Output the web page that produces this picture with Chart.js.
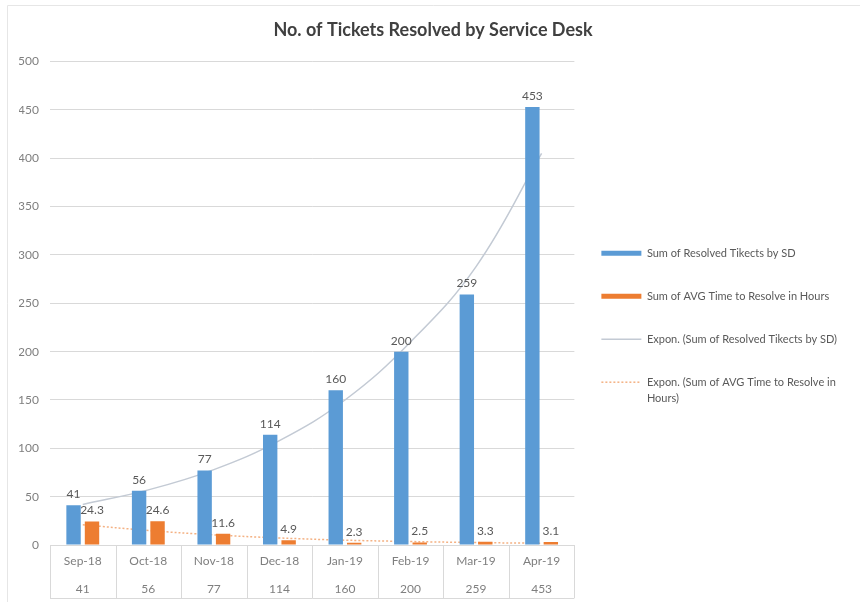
<!DOCTYPE html>
<html>
<head>
<meta charset="utf-8">
<title>No. of Tickets Resolved by Service Desk</title>
<script src="https://cdn.jsdelivr.net/npm/chart.js@4/dist/chart.umd.min.js"></script>
<style>
  html, body { margin: 0; padding: 0; background: #fff; }
  #wrap { width: 860px; height: 602px; position: relative; }
</style>
</head>
<body>
<div id="wrap"><canvas id="myChart"></canvas></div>
<script>
'use strict'

// data
const months = ['Sep-18', 'Oct-18', 'Nov-18', 'Dec-18', 'Jan-19', 'Feb-19', 'Mar-19', 'Apr-19'];
const resolvedTickets = [41, 56, 77, 114, 160, 200, 259, 453];
const avgHours = [24.3, 24.6, 11.6, 4.9, 2.3, 2.5, 3.3, 3.1];
// trendlines as they appear in the picture
const ticketsTrend = [42, 57, 78, 108, 150, 210, 288, 405];
const hoursTrend = [21, 15, 10.5, 7.3, 5, 3.6, 2.5, 1.8];
const yTickValues = [0, 50, 100, 150, 200, 250, 300, 350, 400, 450, 500];

const seriesNames = [
  'Sum of Resolved Tikects by SD',
  'Sum of AVG Time to Resolve in Hours',
  'Expon. (Sum of Resolved Tikects by SD)',
  'Expon. (Sum of AVG Time to Resolve in Hours)'
];
const legendLines = [
  ['Sum of Resolved Tikects by SD'],
  ['Sum of AVG Time to Resolve in Hours'],
  ['Expon. (Sum of Resolved Tikects by SD)'],
  ['Expon. (Sum of AVG Time to Resolve in', 'Hours)']
];

const blue = '#5b9bd5';
const orange = '#ed7d31';
const blueTrend = '#c3cad4';
const orangeTrend = '#f4b183';
const gridGray = '#d9d9d9';
const fontFamily = 'Lato, "Open Sans", sans-serif';

// x labels carry the data table row too
const xLabels = months.map((m, i) => [m, String(resolvedTickets[i])]);

// value labels above the bars
const barValues = {
  id: 'barValues',
  afterDatasetsDraw(chart) {
    const ctx = chart.ctx;
    ctx.save();
    ctx.font = '12px ' + fontFamily;
    ctx.fillStyle = '#595959';
    ctx.textAlign = 'center';
    ctx.textBaseline = 'bottom';
    [0, 1].forEach(di => {
      let meta = chart.getDatasetMeta(di);
      meta.data.forEach((bar, i) => {
        ctx.fillText(String(chart.data.datasets[di].data[i]), bar.x, bar.y - 5);
      });
    });
    ctx.restore();
  }
};

// borders of the data table under the axis + outer frame
const dataTable = {
  id: 'dataTable',
  afterDraw(chart) {
    const ctx = chart.ctx;
    const x = chart.scales.x;
    const area = chart.chartArea;
    const bottom = chart.height - 4;
    ctx.save();
    ctx.strokeStyle = gridGray;
    ctx.lineWidth = 1;
    ctx.beginPath();
    for (let i = 0; i <= months.length; i++) {
      let px = Math.round(x.getPixelForValue(i - 0.5)) + 0.5;
      ctx.moveTo(px, area.bottom);
      ctx.lineTo(px, bottom);
    }
    ctx.moveTo(area.left, bottom + 0.5);
    ctx.lineTo(area.right, bottom + 0.5);
    ctx.stroke();

    ctx.strokeStyle = '#e6e6e6';
    ctx.beginPath();
    ctx.moveTo(7.5, chart.height);
    ctx.lineTo(7.5, 5.5);
    ctx.lineTo(chart.width, 5.5);
    ctx.stroke();
    ctx.restore();
  }
};

const ctx = document.getElementById('myChart');

new Chart(ctx, {
  data: {
    labels: xLabels,
    datasets: [
      {
        type: 'bar',
        label: seriesNames[0],
        data: resolvedTickets,
        backgroundColor: blue,
        categoryPercentage: 0.563,
        barPercentage: 0.78,
        order: 1
      },
      {
        type: 'bar',
        label: seriesNames[1],
        data: avgHours,
        backgroundColor: orange,
        categoryPercentage: 0.563,
        barPercentage: 0.78,
        order: 1
      },
      {
        type: 'line',
        label: seriesNames[2],
        data: ticketsTrend,
        borderColor: blueTrend,
        borderWidth: 1.5,
        pointRadius: 0,
        tension: 0.4,
        order: 2
      },
      {
        type: 'line',
        label: seriesNames[3],
        data: hoursTrend,
        borderColor: orangeTrend,
        borderWidth: 1.5,
        borderDash: [2, 2],
        pointRadius: 0,
        tension: 0.4,
        order: 2
      }
    ]
  },
  options: {
    responsive: true,
    maintainAspectRatio: false,
    animation: false,
    layout: {
      padding: { left: 19, right: 13, top: 0, bottom: 0 }
    },
    plugins: {
      tooltip: { enabled: false },
      title: {
        display: true,
        text: 'No. of Tickets Resolved by Service Desk',
        color: '#404040',
        font: { family: fontFamily, size: 18, weight: 'bold' },
        padding: { top: 19, bottom: 21 }
      },
      legend: {
        position: 'right',
        align: 'center',
        maxWidth: 285,
        title: {
          display: true,
          text: '',
          font: { family: fontFamily, size: 12 },
          padding: { top: 20, bottom: 20 }
        },
        labels: {
          usePointStyle: true,
          pointStyleWidth: 40,
          padding: 27,
          color: '#595959',
          font: { family: fontFamily, size: 11, lineHeight: '16px' },
          generateLabels: () => seriesNames.map((name, i) => ({
            text: legendLines[i],
            fillStyle: [blue, orange, blueTrend, orangeTrend][i],
            strokeStyle: [blue, orange, blueTrend, orangeTrend][i],
            lineWidth: [5, 5, 1.5, 1.5][i],
            lineDash: i === 3 ? [2, 2] : [],
            pointStyle: 'line',
            fontColor: '#595959',
            hidden: false,
            datasetIndex: i
          }))
        }
      }
    },
    scales: {
      x: {
        grid: { display: false },
        border: { display: true, color: gridGray },
        afterFit: (scale) => { scale.height = 57; },
        ticks: {
          color: '#7f7f7f',
          padding: -6,
          maxRotation: 0,
          autoSkip: false,
          font: { family: fontFamily, size: 12, lineHeight: '28px' }
        }
      },
      y: {
        min: 0,
        max: 500,
        afterBuildTicks: (scale) => {
          scale.ticks = yTickValues.map(v => ({ value: v }));
        },
        afterFit: (scale) => { scale.width = 31; },
        grid: { color: gridGray, drawTicks: false },
        border: { display: false },
        ticks: {
          color: '#7f7f7f',
          padding: 11,
          font: { family: fontFamily, size: 12 }
        }
      }
    }
  },
  plugins: [barValues, dataTable]
});
</script>
</body>
</html>
